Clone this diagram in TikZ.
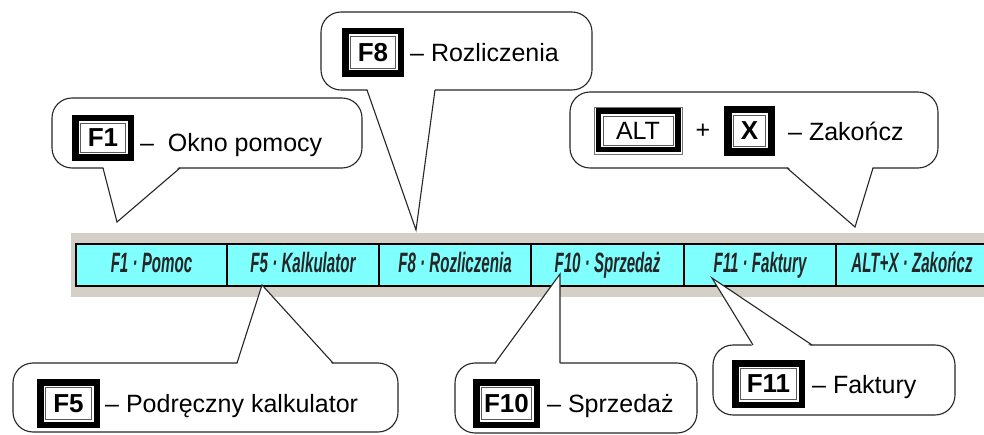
\documentclass[tikz,border=0pt]{standalone}
\usepackage{fontspec}
\setmainfont{Liberation Sans}
\usepackage{graphicx}
\definecolor{barcyan}{HTML}{80FFFF}
\definecolor{bargray}{HTML}{D4D0C8}
\tikzset{
  cbox/.style={draw=black!85, line width=1.1pt, fill=white, rounded corners=20pt},
  cline/.style={draw=black!85, line width=1.1pt, line join=miter},
  cell/.style={draw=black, line width=1.4pt, fill=barcyan},
  celltext/.style={font=\fontsize{28}{30}\selectfont\bfseries\itshape, anchor=base, inner sep=0pt, text=black!85},
  ctext/.style={font=\fontsize{25}{30}\selectfont, anchor=base west, inner sep=0pt},
  keytext/.style={font=\fontsize{26}{30}\selectfont\bfseries, inner sep=0pt},
  keytextr/.style={font=\fontsize{25}{30}\selectfont, inner sep=0pt},
}
\newcommand\keyframe[5]{%
  \fill[black] (#1,#2) rectangle (#3,#4);
  \fill[white] ({#1+#5},{#2+#5}) rectangle ({#3-#5},{#4-#5});
  \draw[black!65, line width=0.9pt] ({#1+#5+2},{#2+#5+2}) rectangle ({#3-#5-2},{#4-#5-2});
}
\newcommand\bartext[1]{\scalebox{0.54}[1]{#1}}
\begin{document}
\begin{tikzpicture}[x=1pt,y=-1pt]
\useasboundingbox (0,0) rectangle (984,435);
\clip (0,0) rectangle (984,435);
\fill[white] (0,0) rectangle (984,435);
% ---- toolbar ----
\fill[bargray] (71,233) rectangle (1000,297);
\draw[cell] (76,244) rectangle (1000,286);
\foreach \x in {227,379,531,684,836} \draw[black, line width=1.4pt] (\x,244) -- (\x,286);
\node[celltext] (b1) at (151.5,273) {\bartext{F1 · Pomoc}};
\node[celltext] (b2) at (303,273) {\bartext{F5 · Kalkulator}};
\node[celltext] (b3) at (455,273) {\bartext{F8 · Rozliczenia}};
\node[celltext] (b4) at (607.5,273) {\bartext{F10 · Sprzedaż}};
\node[celltext] (b5) at (760,273) {\bartext{F11 · Faktury}};
\node[celltext] (b6) at (912,273) {\bartext{ALT+X · Zakończ}};
% ---- pointer tips ----
\coordinate (t1) at (117,222);
\coordinate (t2) at (416,230);
\coordinate (t3) at (855,227);
\coordinate (t4) at (262,285);
\coordinate (t5) at (560,274);
\coordinate (t6) at (712,278);
% ---- callout F1 ----
\draw[cbox] (52,98) rectangle (362,168);
\fill[white] (103,166) -- (t1) -- (180,166) -- cycle;
\draw[cline] (103,168) -- (t1) -- (180,168);
% ---- callout F8 ----
\draw[cbox] (321,12) rectangle (592,90);
\fill[white] (367,88) -- (t2) -- (435,88) -- cycle;
\draw[cline] (367,90) -- (t2) -- (435,90);
% ---- callout ALT+X ----
\draw[cbox] (570,92) rectangle (938,168);
\fill[white] (787,166) -- (t3) -- (873,166) -- cycle;
\draw[cline] (787,168) -- (t3) -- (873,168);
% ---- callout F5 ----
\draw[cbox] (13,363) rectangle (398,432);
\fill[white] (237,365) -- (t4) -- (333,365) -- cycle;
\draw[cline] (237,363) -- (t4) -- (333,363);
% ---- callout F10 ----
\draw[cbox] (455,363) rectangle (697,433);
\fill[white] (495,365) -- (t5) -- (560,365) -- cycle;
\draw[cline] (495,363) -- (t5) -- (560,363);
% ---- callout F11 ----
\draw[cbox] (713,345) rectangle (955,415);
\fill[white] (753,347) -- (t6) -- (812,347) -- cycle;
\draw[cline] (753,345) -- (t6) -- (812,345);
% ---- key frames ----
\keyframe{72}{115}{134}{161}{6.5}
\node[keytext] (kF1) at (103,138) {F1};
\node[ctext] (lF1) at (140,152) {–\ \ Okno pomocy};
\keyframe{342}{28}{404}{77}{6.5}
\node[keytext] (kF8) at (373,52.5) {F8};
\node[ctext] (lF8) at (410,62) {– Rozliczenia};
% ALT key
\draw[black!55, line width=0.8pt] (594,107) rectangle (682,154);
\fill[black] (595.5,108.5) rectangle (680.5,152.5);
\fill[white] (601,114) rectangle (675,147);
\draw[black!65, line width=0.9pt] (603,116) rectangle (673,145);
\node[keytextr] (kALT) at (638,130.5) {ALT};
\node[keytextr] (plus) at (703,131) {+};
\keyframe{724}{106}{775}{156}{7.5}
\node[keytext] (kX) at (749.5,131) {X};
\node[ctext] (lX) at (788,141) {– Zakończ};
\keyframe{37}{379}{100}{428}{6.5}
\node[keytext] (kF5) at (68.5,403.5) {F5};
\node[ctext] (lF5) at (105,412) {– Podręczny kalkulator};
\keyframe{473}{379}{540}{428}{6.5}
\node[keytext] (kF10) at (506.5,403.5) {F10};
\node[ctext] (lF10) at (547,412) {– Sprzedaż};
\keyframe{732}{360}{805}{408}{6.5}
\node[keytext] (kF11) at (768.5,384) {F11};
\node[ctext] (lF11) at (812,393) {– Faktury};
\end{tikzpicture}
\end{document}
